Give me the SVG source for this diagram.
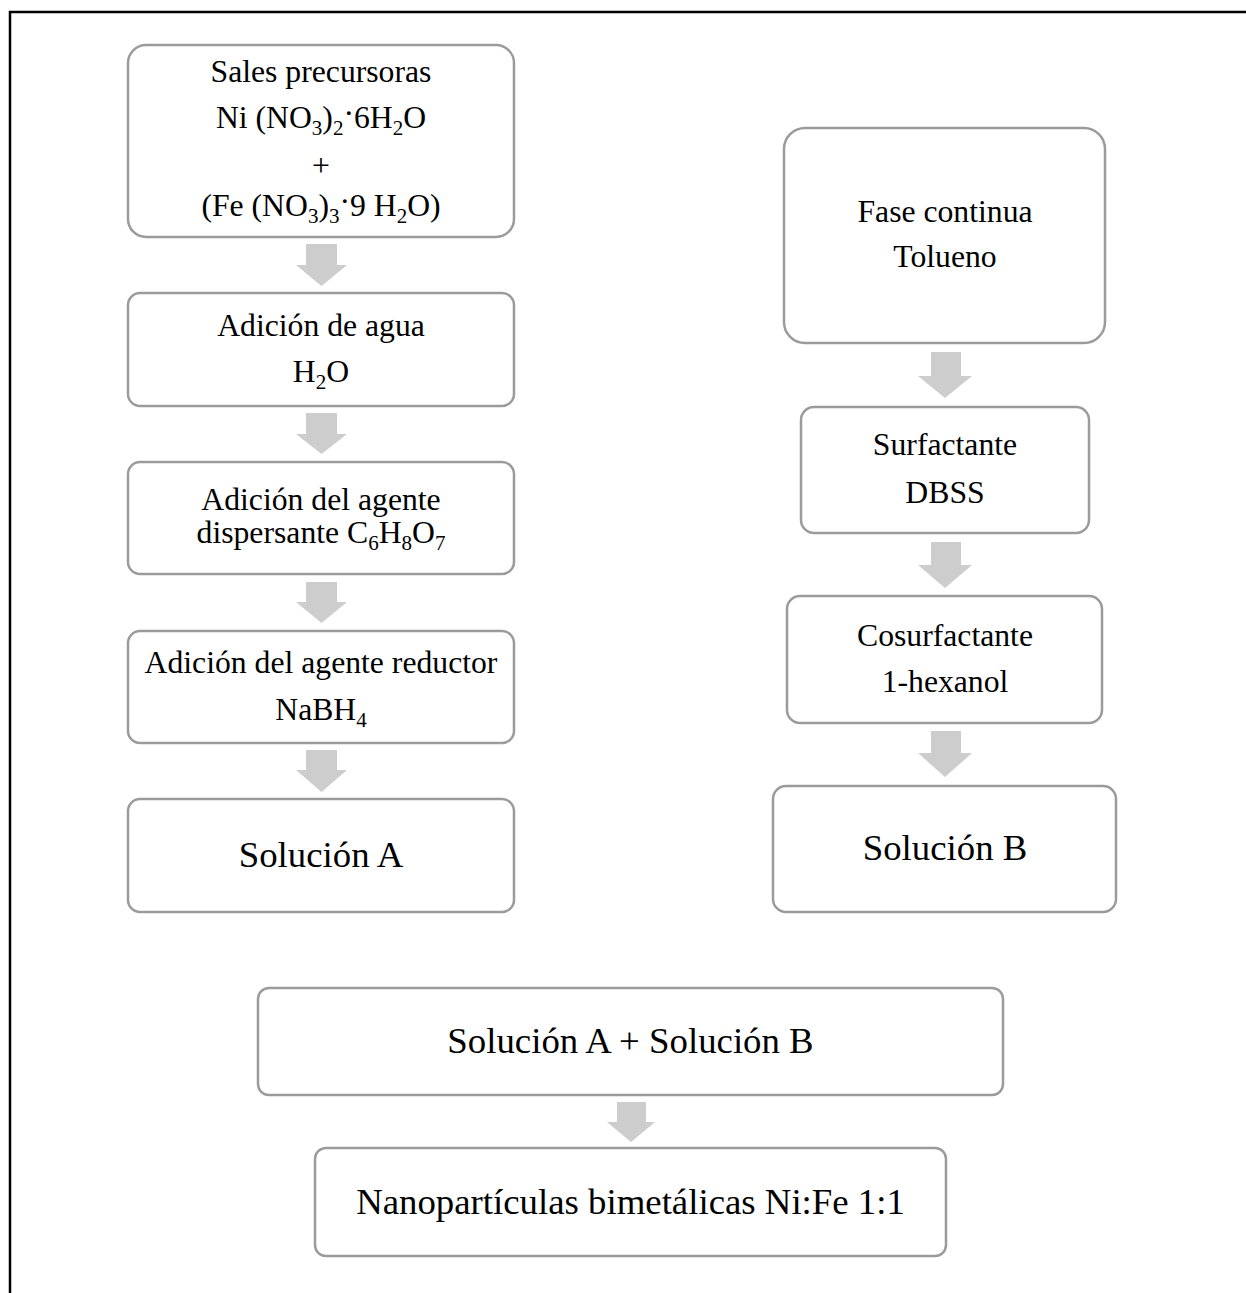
<svg xmlns="http://www.w3.org/2000/svg" width="1246" height="1293" viewBox="0 0 1246 1293">
  <style>
    .box { fill: #ffffff; stroke: #9b9b9b; stroke-width: 2.5; }
    .arr { fill: #cdcdcd; stroke: none; }
    .frame { fill: none; stroke: #000000; stroke-width: 2.5; }
    .t { font-family: "Liberation Serif", "Times New Roman", serif; font-size: 31.7px; text-anchor: middle; fill: #000000; }
    .tl { font-size: 36.8px; }
    .sub { font-size: 21px; }
  </style>
  <rect x="0" y="0" width="1246" height="1293" fill="#ffffff"/>

  <!-- page frame (left and top rules) -->
  <path class="frame" d="M10,1293 V12 H1246"/>

  <!-- connectors: block arrows -->
  <g id="connectors">
    <polygon class="arr" points="306,244 337,244 337,265 347,265 321.5,286 296,265 306,265"/>
    <polygon class="arr" points="306,413 337,413 337,434 347,434 321.5,454 296,434 306,434"/>
    <polygon class="arr" points="306,582 337,582 337,602 347,602 321.5,623 296,602 306,602"/>
    <polygon class="arr" points="306,750 337,750 337,770 347,770 321.5,792 296,770 306,770"/>
    <polygon class="arr" points="931,352 961,352 961,376 972,376 945,398 918,376 931,376"/>
    <polygon class="arr" points="931,542 961,542 961,565 972,565 945,588 918,565 931,565"/>
    <polygon class="arr" points="931,731 961,731 961,753 972,753 945,777 918,753 931,753"/>
    <polygon class="arr" points="617,1102 646,1102 646,1122 655,1122 631,1142 607,1122 617,1122"/>
  </g>

  <!-- left column: solution A -->
  <g id="sales">
    <rect class="box" x="128" y="45" width="386" height="192" rx="18"/>
    <text class="t" x="321" y="82">Sales precursoras</text>
    <text class="t" x="321" y="128">Ni (NO<tspan class="sub" dy="7">3</tspan><tspan dy="-7">)</tspan><tspan class="sub" dy="7">2</tspan><tspan dy="-11">·</tspan><tspan dy="4">6H</tspan><tspan class="sub" dy="7">2</tspan><tspan dy="-7">O</tspan></text>
    <text class="t" x="321" y="176">+</text>
    <text class="t" x="321" y="216">(Fe (NO<tspan class="sub" dy="7">3</tspan><tspan dy="-7">)</tspan><tspan class="sub" dy="7">3</tspan><tspan dy="-11">·</tspan><tspan dy="4">9 H</tspan><tspan class="sub" dy="7">2</tspan><tspan dy="-7">O)</tspan></text>
  </g>
  <g id="agua">
    <rect class="box" x="128" y="293" width="386" height="113" rx="12"/>
    <text class="t" x="321" y="336">Adición de agua</text>
    <text class="t" x="321" y="382">H<tspan class="sub" dy="7">2</tspan><tspan dy="-7">O</tspan></text>
  </g>
  <g id="dispersante">
    <rect class="box" x="128" y="462" width="386" height="112" rx="12"/>
    <text class="t" x="321" y="510">Adición del agente</text>
    <text class="t" x="321" y="543">dispersante C<tspan class="sub" dy="7">6</tspan><tspan dy="-7">H</tspan><tspan class="sub" dy="7">8</tspan><tspan dy="-7">O</tspan><tspan class="sub" dy="7">7</tspan></text>
  </g>
  <g id="reductor">
    <rect class="box" x="128" y="631" width="386" height="112" rx="12"/>
    <text class="t" x="321" y="673">Adición del agente reductor</text>
    <text class="t" x="321" y="720">NaBH<tspan class="sub" dy="7">4</tspan></text>
  </g>
  <g id="solucion-a">
    <rect class="box" x="128" y="799" width="386" height="113" rx="12"/>
    <text class="t tl" x="321" y="867">Solución A</text>
  </g>

  <!-- right column: solution B -->
  <g id="fase-continua">
    <rect class="box" x="784" y="128" width="321" height="215" rx="21"/>
    <text class="t" x="945" y="222">Fase continua</text>
    <text class="t" x="945" y="267">Tolueno</text>
  </g>
  <g id="surfactante">
    <rect class="box" x="801" y="407" width="288" height="126" rx="13"/>
    <text class="t" x="945" y="455">Surfactante</text>
    <text class="t" x="945" y="503">DBSS</text>
  </g>
  <g id="cosurfactante">
    <rect class="box" x="787" y="596" width="315" height="127" rx="13"/>
    <text class="t" x="945" y="646">Cosurfactante</text>
    <text class="t" x="945" y="692">1-hexanol</text>
  </g>
  <g id="solucion-b">
    <rect class="box" x="773" y="786" width="343" height="126" rx="13"/>
    <text class="t tl" x="945" y="860">Solución B</text>
  </g>

  <!-- merge and product -->
  <g id="mezcla">
    <rect class="box" x="258" y="988" width="745" height="107" rx="11"/>
    <text class="t tl" x="630.5" y="1053">Solución A + Solución B</text>
  </g>
  <g id="nanoparticulas">
    <rect class="box" x="315" y="1148" width="631" height="108" rx="11"/>
    <text class="t tl" x="630.5" y="1214">Nanopartículas bimetálicas Ni:Fe 1:1</text>
  </g>
</svg>
